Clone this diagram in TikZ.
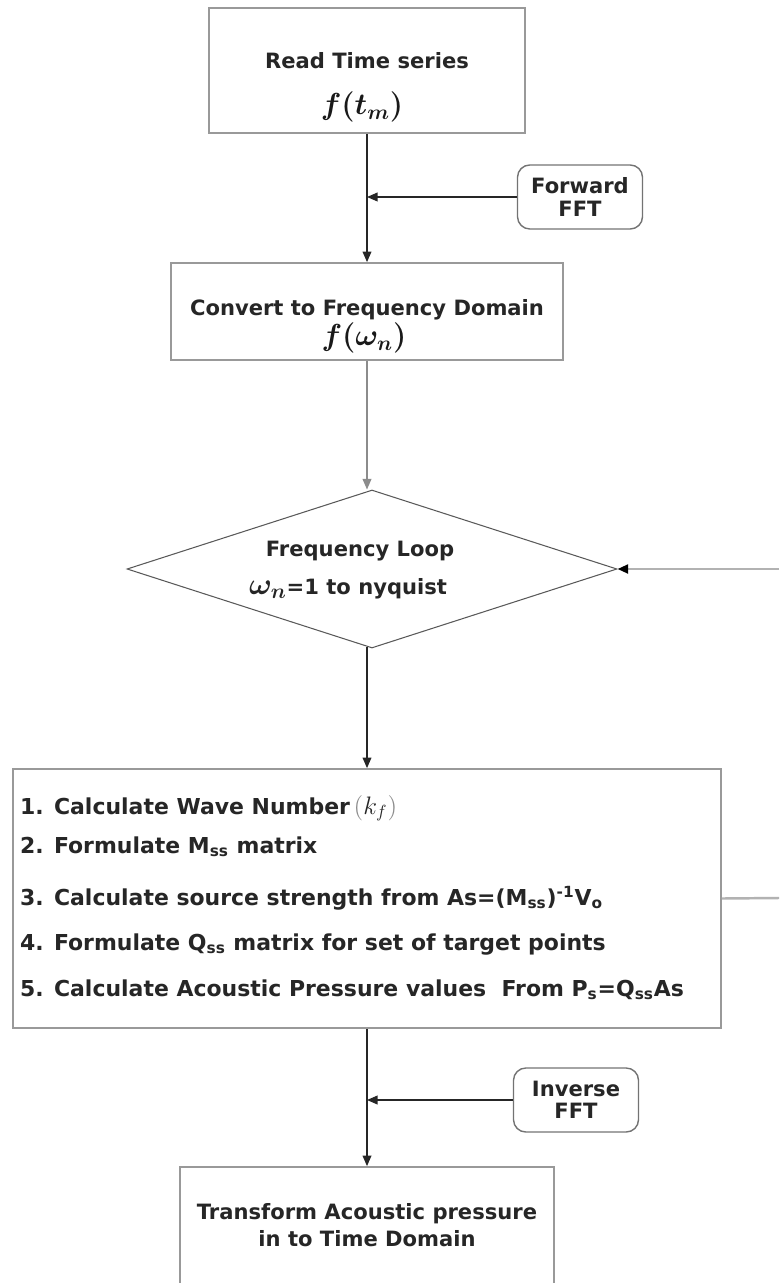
\documentclass[tikz,border=0pt]{standalone}
\usepackage{fontspec}
\setmainfont{DejaVu Sans}
\usetikzlibrary{shapes.geometric,arrows.meta}

\tikzset{
	stepbox/.style={draw=black!40, line width=1pt, rectangle, inner sep=0pt},
	fftbox/.style={draw=black!55, line width=0.8pt, rounded corners=7pt, inner sep=0pt,
		minimum width=125*0.02cm, minimum height=64*0.02cm, align=center,
		font=\bfseries\fontsize{12}{12.8}\selectfont, text=black!85},
	looptest/.style={draw=black!65, line width=0.6pt, diamond, aspect=3, inner sep=0pt},
	boxtext/.style={font=\bfseries\fontsize{12}{14}\selectfont, text=black!85, anchor=base},
	mathtext/.style={font=\fontsize{17}{19}\selectfont\boldmath, text=black!90, anchor=base},
	steptext/.style={font=\bfseries\fontsize{12.5}{14}\selectfont, text=black!85, anchor=base west},
	flow/.style={draw=black!85, line width=0.7pt, -{Triangle[length=6pt,width=5pt]}},
	back/.style={draw=black!30, line width=1.4pt},
}

\begin{document}
\begin{tikzpicture}[x=0.02cm,y=-0.02cm]
	%%%%% START %%%%%
	\useasboundingbox (0,0) rectangle (779,1283);
	\clip (0,0) rectangle (779,1283);
	
	% main column
	\node[stepbox, minimum width=316*0.02cm, minimum height=125*0.02cm] (read) at (367,70.5) {};
	\node[boxtext] (readtxt) at (367,69) {Read Time series};
	\node[mathtext] (readf) at (362,115) {$f(t_m)$};
	
	\node[stepbox, minimum width=392*0.02cm, minimum height=97*0.02cm] (conv) at (367,311.5) {};
	\node[boxtext] (convtxt) at (367,316) {Convert to Frequency Domain};
	\node[mathtext] (convf) at (364,346) {$f(\omega_n)$};
	
	\node[looptest, minimum width=490*0.02cm, minimum height=158*0.02cm] (loop) at (372,569) {};
	\node[boxtext] (looptxt) at (360,556) {Frequency Loop};
	\node[boxtext] (looprange) at (348,594) {{\fontsize{17}{19}\selectfont\boldmath$\omega_n$}=1 to nyquist};
	
	\node[stepbox, minimum width=708*0.02cm, minimum height=259*0.02cm] (calc) at (367,898.5) {};
	\node[steptext] (step1) at (14,814) {1. Calculate Wave Number\,{\mdseries\fontsize{14}{16}\selectfont$\color{black!45}\Bigl(\color{black!85}k_f\color{black!45}\Bigr)$}};
	\node[steptext] (step2) at (14,853) {2. Formulate M\textsubscript{ss} matrix};
	\node[steptext] (step3) at (14,905) {3. Calculate source strength from As=(M\textsubscript{ss})\textsuperscript{-1}V\textsubscript{o}};
	\node[steptext] (step4) at (14,950) {4. Formulate Q\textsubscript{ss} matrix for set of target points};
	\node[steptext] (step5) at (14,996) {5. Calculate Acoustic Pressure values\ \ From P\textsubscript{s}=Q\textsubscript{ss}As};
	
	\node[stepbox, minimum width=374*0.02cm, minimum height=140*0.02cm] (back) at (367,1237) {};
	\node[boxtext] (backtxt) at (367,1219) {Transform Acoustic pressure};
	\node[boxtext] (backtxt2) at (367,1246) {in to Time Domain};
	
	% side boxes
	\node[fftbox] (fwd) at (580,197) {Forward\\FFT};
	\node[fftbox] (inv) at (576,1100) {Inverse\\FFT};
	
	% connectors
	\draw[flow] (read.south) -- (conv.north);
	\draw[flow] (fwd.west) -- (fwd.west -| read.south);
	\draw[flow, draw=black!45] (conv.south) -- (conv.south |- loop.north);
	\draw[flow] (calc.north -| conv.south) ++(0,-121) coordinate (loopout) -- (calc.north -| conv.south);
	\draw[flow] (calc.south) -- (back.north);
	\draw[flow] (inv.west) -- (inv.west -| calc.south);
	
	% return path of the frequency loop
	\coordinate (loopend) at (779,898);
	\coordinate (loopin) at (779,569);
	\draw[back] (calc.east) -- (loopend);
	\draw[back, -{Triangle[length=6pt,width=5pt,color=black]}] (loopin) -- (loop.east);
	%%%%% END %%%%%
\end{tikzpicture}
\end{document}
